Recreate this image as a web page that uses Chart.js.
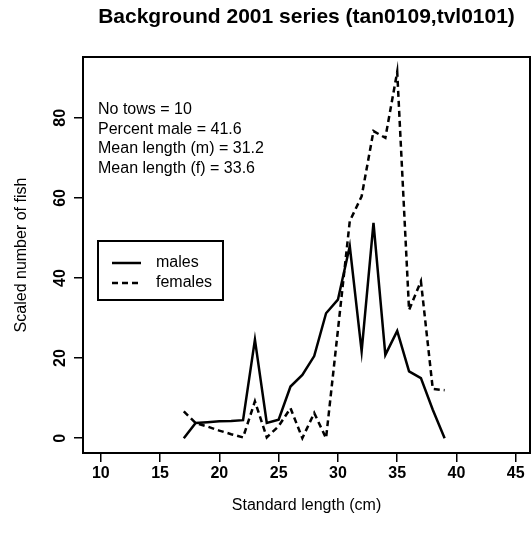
<!DOCTYPE html>
<html>
<head>
<meta charset="utf-8">
<script src="https://cdn.jsdelivr.net/npm/chart.js@4"></script>
<style>
  html, body { margin: 0; padding: 0; background: #fff; }
</style>
</head>
<body>
<canvas id="grafico" width="531" height="540"></canvas>
<script>
// length classes (cm) and scaled numbers
const lengths = [17, 18, 19, 20, 21, 22, 23, 24, 25, 26, 27, 28, 29, 30, 31, 32, 33, 34, 35, 36, 37, 38, 39];
const males   = [0, 3.8, 4.0, 4.2, 4.3, 4.5, 24.6, 3.8, 4.6, 12.9, 15.8, 20.5, 31.2, 34.6, 48, 21.7, 53.8, 20.8, 26.8, 16.7, 15, 7.1, 0];
const females = [6.7, 3.8, 2.9, 1.9, 1.0, 0.2, 9.2, 0.2, 3.0, 7.5, 0, 6.3, 0, 27, 54.2, 60.4, 76.7, 75, 91.5, 32, 39.2, 12.3, 12];

const xTicks = [10, 15, 20, 25, 30, 35, 40, 45];
const yTicks = [0, 20, 40, 60, 80];
const seriesNames = ['males', 'females'];
const statsLines = ['No tows = 10', 'Percent male = 41.6', 'Mean length (m) = 31.2', 'Mean length (f) = 33.6'];
const chartTitle = 'Background 2001 series (tan0109,tvl0101)';

const FONT = '"Liberation Sans", Arial, sans-serif';

function toPoints(vals) {
    return lengths.map((l, i) => ({ x: l, y: vals[i] }));
}

// box, title, rotated y labels, text block and legend, R style
const rExtras = {
    id: 'rExtras',
    beforeDraw(chart) {
        const ctx = chart.ctx;
        ctx.save();
        ctx.fillStyle = '#fff';
        ctx.fillRect(0, 0, chart.width, chart.height);
        ctx.restore();
    },
    afterDraw(chart) {
        const { ctx, chartArea: a } = chart;
        const yScale = chart.scales.y;
        ctx.save();
        ctx.strokeStyle = '#000';
        ctx.fillStyle = '#000';
        ctx.lineWidth = 2;
        ctx.strokeRect(a.left, a.top, a.right - a.left, a.bottom - a.top);

        // title
        ctx.font = 'bold 21px ' + FONT;
        ctx.textAlign = 'center';
        ctx.textBaseline = 'middle';
        ctx.fillText(chartTitle, (a.left + a.right) / 2, 17);

        // y tick labels, parallel to the axis
        ctx.font = 'bold 16px ' + FONT;
        yTicks.forEach(v => {
            ctx.save();
            ctx.translate(61, yScale.getPixelForValue(v));
            ctx.rotate(-Math.PI / 2);
            ctx.fillText(String(v), 0, 0);
            ctx.restore();
        });

        // stats text
        ctx.font = '16px ' + FONT;
        ctx.textAlign = 'left';
        statsLines.forEach((s, i) => {
            ctx.fillText(s, 98, 110 + i * 19.5);
        });

        // legend
        ctx.lineWidth = 2;
        ctx.strokeRect(98, 241, 125, 59);
        seriesNames.forEach((name, i) => {
            const ly = 263 + i * 20;
            const ds = chart.data.datasets[i];
            ctx.save();
            ctx.lineWidth = ds.borderWidth;
            ctx.setLineDash(ds.borderDash || []);
            ctx.beginPath();
            ctx.moveTo(112, ly);
            ctx.lineTo(141, ly);
            ctx.stroke();
            ctx.restore();
            ctx.fillText(name, 156, ly);
        });
        ctx.restore();
    }
};

const config = {
    type: 'line',
    data: {
        datasets: [
            {
                label: seriesNames[0],
                data: toPoints(males),
                borderColor: '#000',
                borderWidth: 2.5,
                pointRadius: 0,
                tension: 0
            },
            {
                label: seriesNames[1],
                data: toPoints(females),
                borderColor: '#000',
                borderWidth: 2.5,
                borderDash: [6, 4],
                pointRadius: 0,
                tension: 0
            }
        ]
    },
    options: {
        responsive: false,
        animation: false,
        layout: { padding: { top: 57, right: 1, left: 0, bottom: 0 } },
        plugins: {
            legend: { display: false },
            tooltip: { enabled: false }
        },
        scales: {
            x: {
                type: 'linear',
                min: 8.5,
                max: 46.2,
                afterBuildTicks: s => { s.ticks = xTicks.map(v => ({ value: v })); },
                afterFit: s => { s.height = 87; },
                grid: { drawOnChartArea: false, color: '#000', lineWidth: 1.5, tickLength: 9 },
                border: { display: true, color: '#000', width: 2 },
                ticks: {
                    color: '#000',
                    padding: 2,
                    maxRotation: 0,
                    font: { family: FONT, size: 16, weight: 'bold' }
                },
                title: {
                    display: true,
                    text: 'Standard length (cm)',
                    color: '#000',
                    font: { family: FONT, size: 16 },
                    padding: { top: 0, bottom: 25 }
                }
            },
            y: {
                type: 'linear',
                min: -3.7,
                max: 95.2,
                afterBuildTicks: s => { s.ticks = yTicks.map(v => ({ value: v })); },
                afterFit: s => { s.width = 83; },
                grid: { drawOnChartArea: false, color: '#000', lineWidth: 1.5, tickLength: 9 },
                border: { display: true, color: '#000', width: 2 },
                ticks: { display: false },
                title: {
                    display: true,
                    text: 'Scaled number of fish',
                    color: '#000',
                    font: { family: FONT, size: 16 },
                    padding: { top: 12, bottom: 0 }
                }
            }
        }
    },
    plugins: [rExtras]
};

new Chart(document.getElementById('grafico'), config);
</script>
</body>
</html>
